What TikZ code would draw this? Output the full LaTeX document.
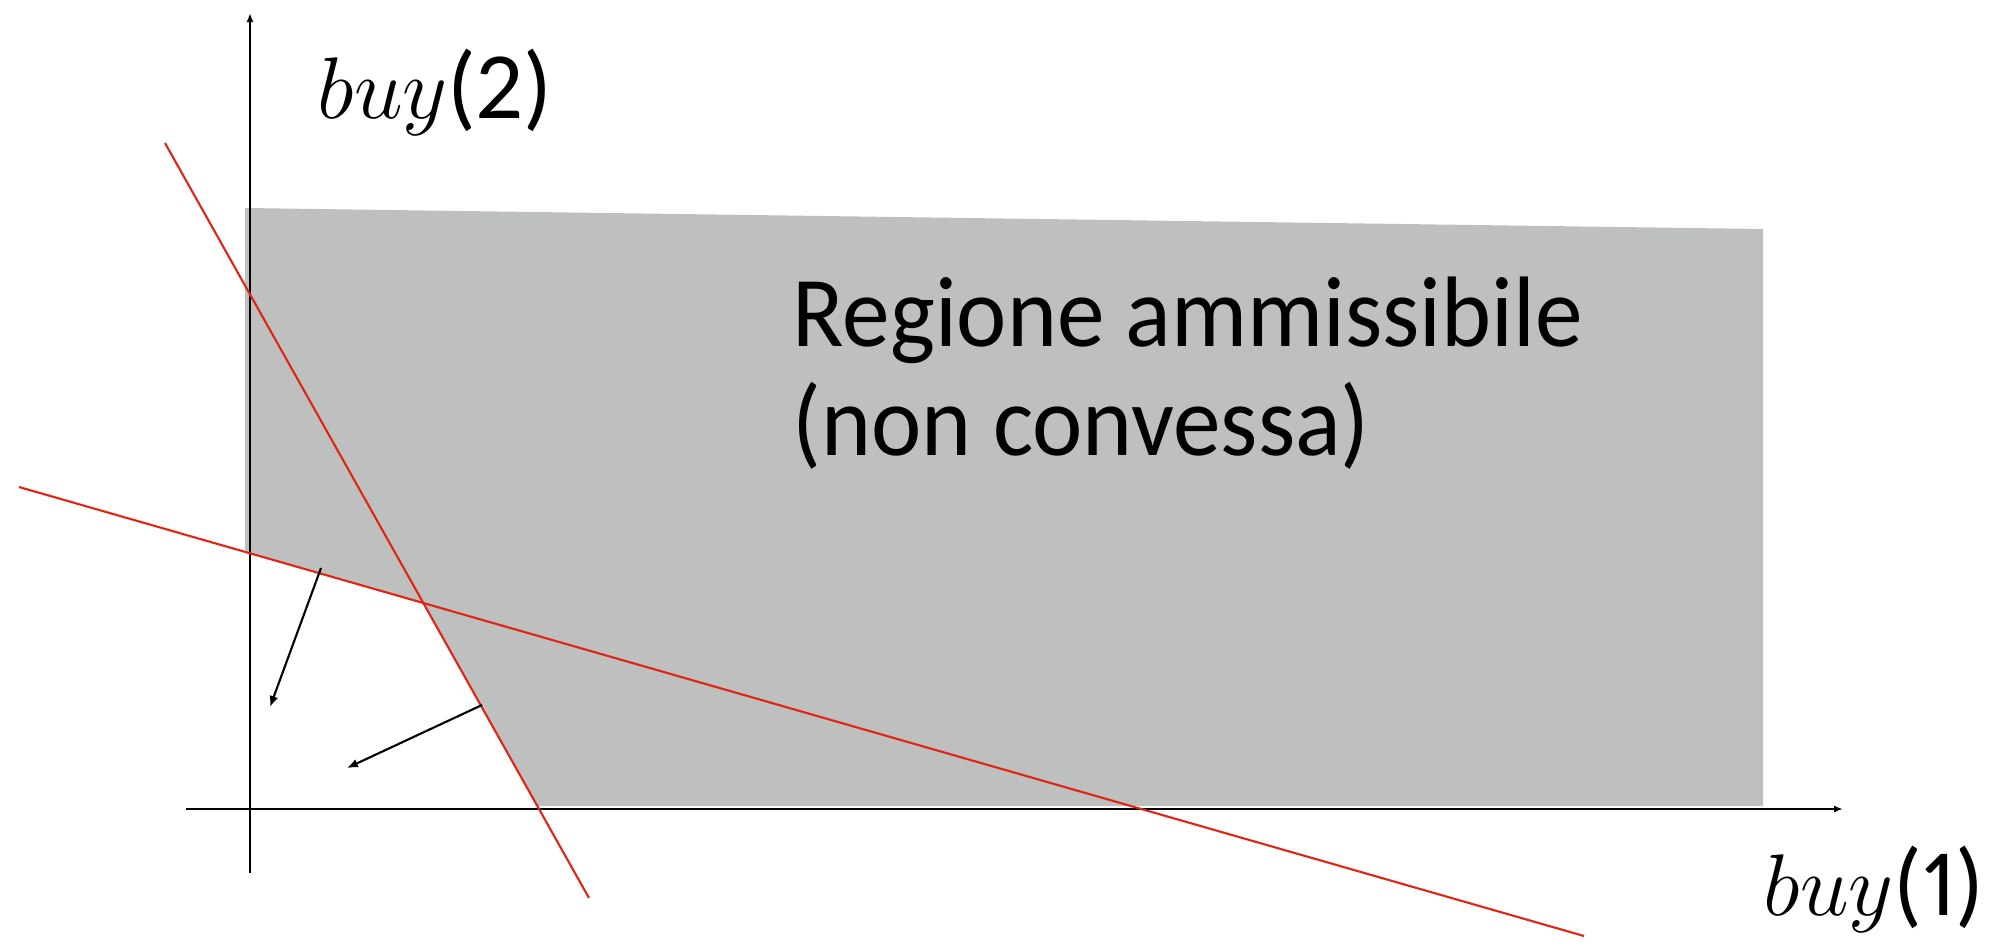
\documentclass[tikz,border=0pt]{standalone}
\usepackage{fontspec}
\setsansfont[Numbers=Proportional]{Carlito}
\usetikzlibrary{arrows.meta}
\definecolor{regiongray}{RGB}{190,192,191}
\definecolor{boundred}{RGB}{226,36,20}
\newcommand{\sanslab}[1]{{\fontsize{27}{32}\sffamily #1}}

\begin{document}
\begin{tikzpicture}[
			x=0.01cm, y=-0.01cm,
			axis/.style = {line width=0.6pt, -{Latex[length=0.9mm,width=0.7mm]}},
			bound/.style = {line width=0.6pt, draw=boundred},
			dirarrow/.style = {line width=0.6pt, -{Latex[length=1.1mm,width=0.9mm]}},
			lbl/.style = {inner sep=0pt, anchor=base west, font=\fontsize{24}{28}\selectfont},
			regtxt/.style = {inner sep=0pt, anchor=base west, font=\fontsize{28.5}{34}\sffamily}
		]
		\useasboundingbox (0,0) rectangle (1998,945);
		% Feasible region.
		\fill[regiongray] (245,208) -- (1763,229) -- (1763,806) -- (537,806)
			-- (423,603) -- (245,552) -- cycle;
		% Axes.
		\coordinate (o) at (250,809);
		\draw[axis] (186,809) -- (1843,809);
		\draw[axis] (250,873) -- (250,13);
		% Constraints.
		\coordinate (sa) at (165,143);
		\coordinate (sb) at (589,898);
		\coordinate (ha) at (19,487);
		\coordinate (hb) at (1584,936);
		\draw[bound] (sa) -- (sb);
		\draw[bound] (ha) -- (hb);
		% Directions.
		\coordinate (da) at (321,568);
		\coordinate (db) at (270,707);
		\coordinate (ea) at (482,705);
		\coordinate (eb) at (347,768);
		\draw[dirarrow] (da) -- (db);
		\draw[dirarrow] (ea) -- (eb);
		% Labels.
		\node[lbl] (ylab) at (317,118) {$buy$\sanslab{(2)}};
		\node[lbl] (xlab) at (1763,915) {$buy$\sanslab{(1)}};
		\node[regtxt] (reg1) at (792,346) {\scalebox{0.95}[1]{Regione ammissibile}};
		\node[regtxt] (reg2) at (792,455) {\scalebox{0.95}[1]{(non convessa)}};
	\end{tikzpicture}
\end{document}
